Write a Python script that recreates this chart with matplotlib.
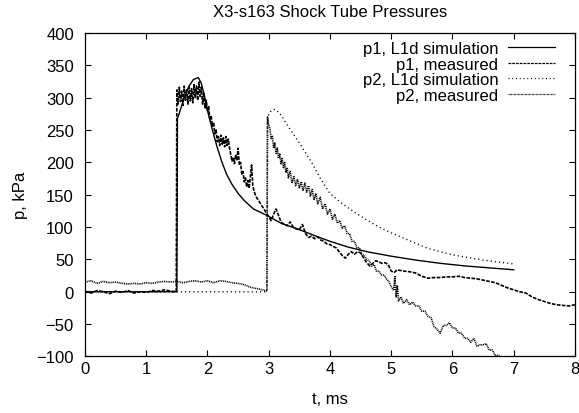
import matplotlib
matplotlib.use("Agg")
import matplotlib.pyplot as plt

plt.rcParams['font.family'] = ['Liberation Sans', 'DejaVu Sans']

# L1d simulation, p1
t_p1_sim = [0, 1.50, 1.51, 1.54, 1.58, 1.63, 1.70, 1.77, 1.85, 1.90, 1.95, 2.00,
            2.08, 2.15, 2.23, 2.31, 2.40, 2.50, 2.60, 2.75, 2.97, 3.20, 3.50, 3.80,
            4.00, 4.30, 4.60, 5.00, 5.40, 5.80, 6.20, 6.60, 7.00]
p_p1_sim = [0, 0, 268, 276, 288, 304, 318, 328, 331, 322, 303, 280,
            250, 226, 202, 182, 166, 152, 141, 128, 118, 106, 96, 85,
            78, 69, 62, 55, 49, 44, 40, 37, 34]

# measured p1
t_p1_meas = [0.0, 0.1, 0.2, 0.3, 0.4, 0.5, 0.6, 0.7, 0.8, 0.9, 1.0, 1.1, 1.2, 1.3, 1.4, 1.49,
             1.50, 1.52, 1.54, 1.56, 1.58, 1.60, 1.62, 1.64, 1.66, 1.68, 1.70, 1.72, 1.74,
             1.76, 1.78, 1.80, 1.82, 1.84, 1.86, 1.88, 1.90, 1.92, 1.94, 1.96, 1.98, 2.00,
             2.02, 2.04, 2.06, 2.08, 2.10, 2.12, 2.14, 2.16, 2.18, 2.20, 2.22, 2.24, 2.26,
             2.28, 2.30, 2.32, 2.34, 2.36, 2.38, 2.40, 2.42, 2.44, 2.46, 2.48, 2.50, 2.52,
             2.54, 2.56, 2.58, 2.60, 2.62, 2.64, 2.66, 2.68, 2.70, 2.72, 2.74, 2.76, 2.78,
             2.80, 2.84, 2.88, 2.92, 2.96, 3.00, 3.04, 3.08, 3.12, 3.16, 3.20, 3.25, 3.30,
             3.35, 3.40, 3.45, 3.50, 3.55, 3.60, 3.65, 3.70, 3.75, 3.80, 3.85, 3.90, 3.95,
             4.00, 4.05, 4.10, 4.15, 4.20, 4.25, 4.30, 4.35, 4.40, 4.45, 4.50, 4.55, 4.60,
             4.65, 4.70, 4.75, 4.80, 4.85, 4.90, 4.95, 5.00, 5.05, 5.10, 5.20, 5.30, 5.40,
             5.50, 5.60, 5.70, 5.80, 5.90, 6.00, 6.10, 6.20, 6.30, 6.40, 6.50, 6.60, 6.70,
             6.80, 6.90, 7.00, 7.10, 7.20, 7.30, 7.40, 7.50, 7.60, 7.70, 7.80, 7.90, 8.00]
p_p1_meas = [1, -2, 2, 0, -3, 1, -1, 2, -2, 0, -1, 2, 1, 3, 1, 0,
             312, 290, 316, 294, 310, 288, 318, 296, 312, 290, 316, 295, 314,
             292, 320, 300, 318, 296, 324, 302, 316, 290, 308, 284, 296, 278,
             286, 264, 272, 256, 262, 244, 250, 232, 240, 226, 242, 228, 238,
             224, 240, 226, 236, 222, 212, 202, 208, 198, 212, 204, 222, 196,
             200, 182, 186, 170, 176, 162, 172, 160, 178, 196, 164, 156, 150,
             146, 140, 134, 128, 122, 116, 110, 120, 128, 118, 108, 104, 102,
             108, 100, 97, 96, 104, 90, 84, 86, 82, 85, 80, 78, 74,
             73, 70, 68, 62, 56, 52, 58, 62, 58, 62, 60, 52, 45,
             40, 44, 48, 46, 44, 45, 42, 32, 30, 34, 32, 31, 29,
             24, 21, 22, 22, 23, 23, 24, 22, 21, 20, 18, 16, 14,
             10, 6, 3, 0, -2, -8, -12, -15, -18, -20, -21, -22, -20]

# L1d simulation, p2
t_p2_sim = [0, 2.97, 2.98, 3.00, 3.04, 3.10, 3.18, 3.30, 3.50, 3.70, 3.85, 4.00,
            4.20, 4.40, 4.60, 4.80, 5.00, 5.30, 5.60, 6.00, 6.50, 7.00]
p_p2_sim = [0, 0, 265, 274, 280, 282, 276, 258, 230, 200, 174, 152,
            136, 123, 111, 100, 91, 79, 67, 57, 49, 43]

# measured p2
t_p2_meas = [0.0, 0.1, 0.2, 0.3, 0.4, 0.5, 0.6, 0.7, 0.8, 0.9, 1.0, 1.1, 1.2, 1.3, 1.4,
             1.5, 1.6, 1.7, 1.8, 1.9, 2.0, 2.1, 2.2, 2.3, 2.4, 2.5, 2.6, 2.7, 2.8, 2.9, 2.97,
             2.98, 3.00, 3.02, 3.04, 3.06, 3.08, 3.10, 3.12, 3.14, 3.16, 3.18, 3.20, 3.22,
             3.24, 3.26, 3.28, 3.30, 3.32, 3.35, 3.38, 3.41, 3.44, 3.47, 3.50, 3.53, 3.56,
             3.59, 3.62, 3.65, 3.68, 3.71, 3.74, 3.77, 3.80, 3.84, 3.88, 3.92, 3.96, 4.00,
             4.04, 4.08, 4.12, 4.16, 4.20, 4.24, 4.28, 4.32, 4.36, 4.40, 4.44, 4.48, 4.52,
             4.56, 4.60, 4.64, 4.68, 4.72, 4.76, 4.80, 4.84, 4.88, 4.92, 4.96, 5.00, 5.04,
             5.06, 5.08, 5.10, 5.12, 5.16, 5.20, 5.25, 5.30, 5.35, 5.40, 5.45, 5.50, 5.55,
             5.60, 5.65, 5.70, 5.75, 5.80, 5.85, 5.90, 5.95, 6.00, 6.05, 6.10, 6.15, 6.20,
             6.25, 6.30, 6.35, 6.40, 6.45, 6.50, 6.55, 6.60, 6.65, 6.70, 6.75, 6.80, 6.90]
p_p2_meas = [15, 17, 13, 16, 14, 15, 13, 12, 13, 12, 14, 13, 15, 16, 15,
             16, 14, 16, 17, 15, 17, 14, 17, 16, 14, 13, 11, 7, 5, 3, 1,
             270, 258, 252, 236, 240, 222, 230, 214, 222, 206, 214, 198, 206,
             192, 200, 184, 192, 176, 186, 168, 178, 164, 174, 160, 170, 156,
             168, 154, 164, 148, 158, 142, 152, 136, 146, 128, 136, 120, 128,
             112, 120, 106, 110, 98, 102, 90, 90, 78, 78, 68, 68, 58,
             56, 50, 48, 40, 42, 32, 32, 26, 26, 20, 16, 8, 2,
             25, -8, 10, -14, -8, -18, -12, -20, -16, -22, -22, -30, -30,
             -38, -40, -54, -58, -64, -52, -52, -48, -56, -56, -64, -64, -72,
             -72, -78, -72, -84, -82, -82, -80, -90, -90, -99, -98, -104, -106]

fig = plt.figure(figsize=(5.79, 4.14), dpi=100)
ax = fig.add_axes([0.1468, 0.1365, 0.8462, 0.7815])

ax.plot(t_p1_sim, p_p1_sim, color='black', lw=1.0, label='p1, L1d simulation')
ax.plot(t_p1_meas, p_p1_meas, color='black', lw=1.2, dashes=(2.2, 0.8),
        label='p1, measured')
ax.plot(t_p2_sim, p_p2_sim, color='black', lw=1.0, dashes=(0.8, 2.2),
        label='p2, L1d simulation')
ax.plot(t_p2_meas, p_p2_meas, color='black', lw=1.2, dashes=(0.6, 0.5),
        label='p2, measured')

ax.set_xlim(0, 8)
ax.set_ylim(-100, 400)
ax.set_xticks(range(0, 9))
ax.set_yticks(range(-100, 401, 50))
ax.tick_params(direction='in', top=True, right=True, length=4.5, width=0.8,
               labelsize=12)
ax.tick_params(axis='x', pad=3)
ax.tick_params(axis='y', pad=8)
for s in ax.spines.values():
    s.set_linewidth(0.9)

ax.set_title('X3-s163 Shock Tube Pressures', fontsize=12, pad=12)
ax.set_xlabel('t, ms', fontsize=12, labelpad=11)
ax.set_ylabel('p, kPa', fontsize=12, labelpad=6)

leg = ax.legend(loc='upper right', bbox_to_anchor=(0.990, 1.021), frameon=False,
                markerfirst=False, alignment='right', fontsize=12,
                handlelength=2.8, labelspacing=0.03, handletextpad=0.6)
for h in leg.get_lines():
    h.set_linewidth(0.9)

fig.savefig('out.png', dpi=100)
